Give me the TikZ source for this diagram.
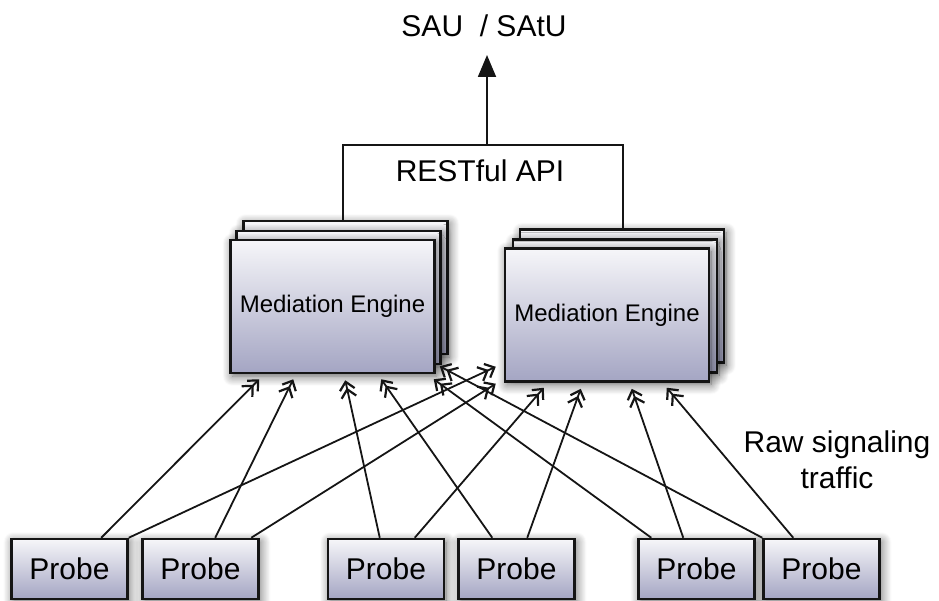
\documentclass[tikz,border=0pt]{standalone}
\usepackage{fontspec}
\setmainfont{Liberation Sans}
\usetikzlibrary{arrows.meta,calc,shadows.blur}
\definecolor{boxtop}{HTML}{F6F6F9}
\definecolor{boxbot}{HTML}{A4A5C3}
\definecolor{ink}{HTML}{151515}
\begin{document}
\begin{tikzpicture}[x=1pt,y=-1pt,
  shadowed/.style={blur shadow={shadow blur steps=12,shadow xshift=2pt,shadow yshift=-3pt,shadow blur radius=10pt,shadow opacity=60}},
  boxbase/.style={draw=ink,line width=2.5pt,top color=boxtop,bottom color=boxbot,inner sep=0pt,shadowed},
  mebox/.style={boxbase,minimum width=204pt,minimum height=133pt,font=\fontsize{24}{28}\selectfont},
  probe/.style={boxbase,minimum width=116pt,minimum height=60pt,font=\fontsize{30}{36}\selectfont},
  label/.style={font=\fontsize{30}{36}\selectfont,inner sep=0pt},
  feed/.style={draw=ink,line width=1.8pt,-{Straight Barb[length=8pt,width=15pt,line width=2.2pt,sep=-3pt]Straight Barb[length=8pt,width=15pt,line width=2.2pt]}},
  link/.style={draw=ink,line width=1.8pt},
]
\useasboundingbox (0,0) rectangle (939,601);

% Mediation engine stacks
\node[mebox] (m1c) at (345.5,287.5) {};
\node[mebox] (m1b) at (338.5,297.5) {};
\node[mebox] (m1)  at (332.5,306.5) {Mediation Engine};
\node[mebox] (m2c) at (622,296) {};
\node[mebox] (m2b) at (615,306) {};
\node[mebox] (m2)  at (607,315) {Mediation Engine};

% Probes
\node[probe] (p1) at (69.5,569) {Probe};
\node[probe] (p2) at (200.5,569) {Probe};
\node[probe] (p3) at (386,569) {Probe};
\node[probe] (p4) at (516.5,569) {Probe};
\node[probe] (p5) at (696.5,569) {Probe};
\node[probe] (p6) at (821.5,569) {Probe};

% Labels
\node[label,anchor=base] (sau) at (484,37) {SAU\ \ / SAtU};
\node[label,anchor=base] (api) at (480,182) {RESTful API};
\node[label,anchor=base,align=center] (raw) at (837,488) {Raw signaling\\traffic};

% RESTful API bracket and arrow up
\coordinate (hub) at (487,146);
\coordinate (tip) at (487,55);
\draw[link] ($(m1c.north west)+(101,0)$) -- ++(0,-75) -| ($(m2c.north west)+(104,0)$);
\draw[link,-{Triangle[length=22pt,width=18pt]}] (hub) -- (tip);

% Raw signaling traffic
\draw[feed] ($(p1.north west)+(91,0)$) -- ($(m1.south west)+(30,5)$);
\draw[feed] (p1.north east) -- ($(m2.south west)+(-8,-16)$);
\draw[feed] ($(p2.north west)+(74,0)$) -- ($(m1.south west)+(64,5)$);
\draw[feed] ($(p2.north west)+(110,0)$) -- ($(m2.south west)+(-8,1)$);
\draw[feed] ($(p3.north west)+(53,0)$) -- ($(m1.south west)+(116,6)$);
\draw[feed] ($(p3.north west)+(88,0)$) -- ($(m2.south west)+(40,5)$);
\draw[feed] ($(p4.north west)+(35,0)$) -- ($(m1.south west)+(152,5)$);
\draw[feed] ($(p4.north west)+(70,0)$) -- ($(m2.south west)+(77,6)$);
\draw[feed] ($(p5.north west)+(14,0)$) -- ($(m1.south east)+(-2,5)$);
\draw[feed] ($(p5.north west)+(46,0)$) -- ($(m2.south west)+(128,6)$);
\draw[feed] (p6.north west) -- ($(m1.south east)+(4,-8)$);
\draw[feed] ($(p6.north west)+(31,0)$) -- ($(m2.south west)+(163,5)$);
\end{tikzpicture}
\end{document}
